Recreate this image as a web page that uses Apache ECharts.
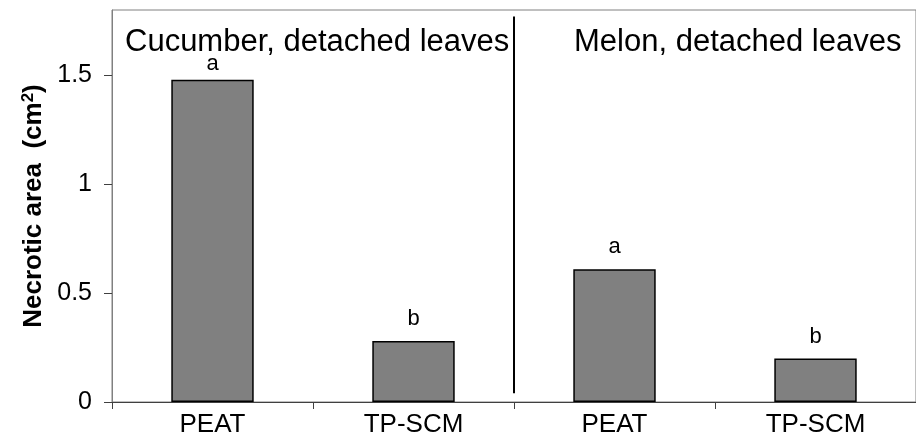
<!DOCTYPE html>
<html>
<head>
<meta charset="utf-8">
<script src="https://cdn.jsdelivr.net/npm/echarts@6/dist/echarts.min.js"></script>
<style>
  html, body { margin: 0; padding: 0; background: #fff; }
  #chart { width: 916px; height: 438px; }
</style>
</head>
<body>
<div id="chart"></div>
<script>
// Treatments, necrotic area per treatment, and significance letters
const categories = ['PEAT', 'TP-SCM', 'PEAT', 'TP-SCM'];
const necroticArea = [1.48, 0.28, 0.61, 0.20];
const letters = ['a', 'b', 'a', 'b'];
const yTicks = [0, 0.5, 1, 1.5];
const panelTitles = ['Cucumber, detached leaves', 'Melon, detached leaves'];
// Vertical separator between the two crops (position on the 0..4 category span)
const dividerX = [2, 2];
const dividerY = [0.04, 1.77];

const FONT = '"Liberation Sans", Arial, sans-serif';

const chart = echarts.init(document.getElementById('chart'));
chart.setOption({
  animation: false,
  backgroundColor: '#ffffff',
  textStyle: { fontFamily: FONT },
  title: [
    { text: panelTitles[0], left: 120, top: 22,
      textStyle: { fontFamily: FONT, fontSize: 31, fontWeight: 'normal', color: '#000' } },
    { text: panelTitles[1], left: 569, top: 22,
      textStyle: { fontFamily: FONT, fontSize: 31, fontWeight: 'normal', color: '#000' } }
  ],
  grid: {
    left: 112, right: -6, top: 10, bottom: 35,
    show: true, borderColor: '#808080', borderWidth: 1, backgroundColor: 'transparent'
  },
  xAxis: [
    {
      type: 'category',
      data: categories,
      axisLine: { lineStyle: { color: '#404040', width: 1 } },
      axisTick: { show: true, alignWithLabel: false, length: 7, lineStyle: { color: '#404040' } },
      axisLabel: { fontFamily: FONT, fontSize: 26, color: '#000', margin: 10 }
    },
    {
      type: 'value', min: 0, max: 4, show: false
    }
  ],
  yAxis: {
    type: 'value',
    min: 0, max: 1.8, interval: 0.5,
    name: '{t|Necrotic area  (cm}{s|2}{t|)}',
    nameLocation: 'middle',
    nameGap: 64,
    nameTextStyle: {
      rich: {
        t: { fontFamily: FONT, fontSize: 26, fontWeight: 'bold', color: '#000' },
        s: { fontFamily: FONT, fontSize: 17, fontWeight: 'bold', color: '#000', verticalAlign: 'top', padding: [0, 0, 10, 0] }
      }
    },
    axisLine: { show: true, lineStyle: { color: '#808080', width: 1 } },
    axisTick: { show: true, length: 8, customValues: yTicks, lineStyle: { color: '#404040' } },
    axisLabel: {
      customValues: yTicks,
      fontFamily: FONT, fontSize: 25, color: '#000', margin: 20,
      formatter: v => String(v)
    },
    splitLine: { show: false }
  },
  series: [
    {
      type: 'bar',
      data: necroticArea.map((v, i) => ({
        value: v,
        label: { distance: i === 0 ? 5 : 11 }
      })),
      barWidth: '41%',
      itemStyle: { color: '#808080', borderColor: '#000', borderWidth: 1.5 },
      label: {
        show: true, position: 'top',
        fontFamily: FONT, fontSize: 22, color: '#000',
        formatter: p => letters[p.dataIndex]
      }
    },
    {
      type: 'line',
      xAxisIndex: 1,
      data: dividerX.map((x, i) => [x, dividerY[i]]),
      symbol: 'none',
      lineStyle: { color: '#000', width: 2 },
      silent: true
    }
  ]
});
</script>
</body>
</html>
